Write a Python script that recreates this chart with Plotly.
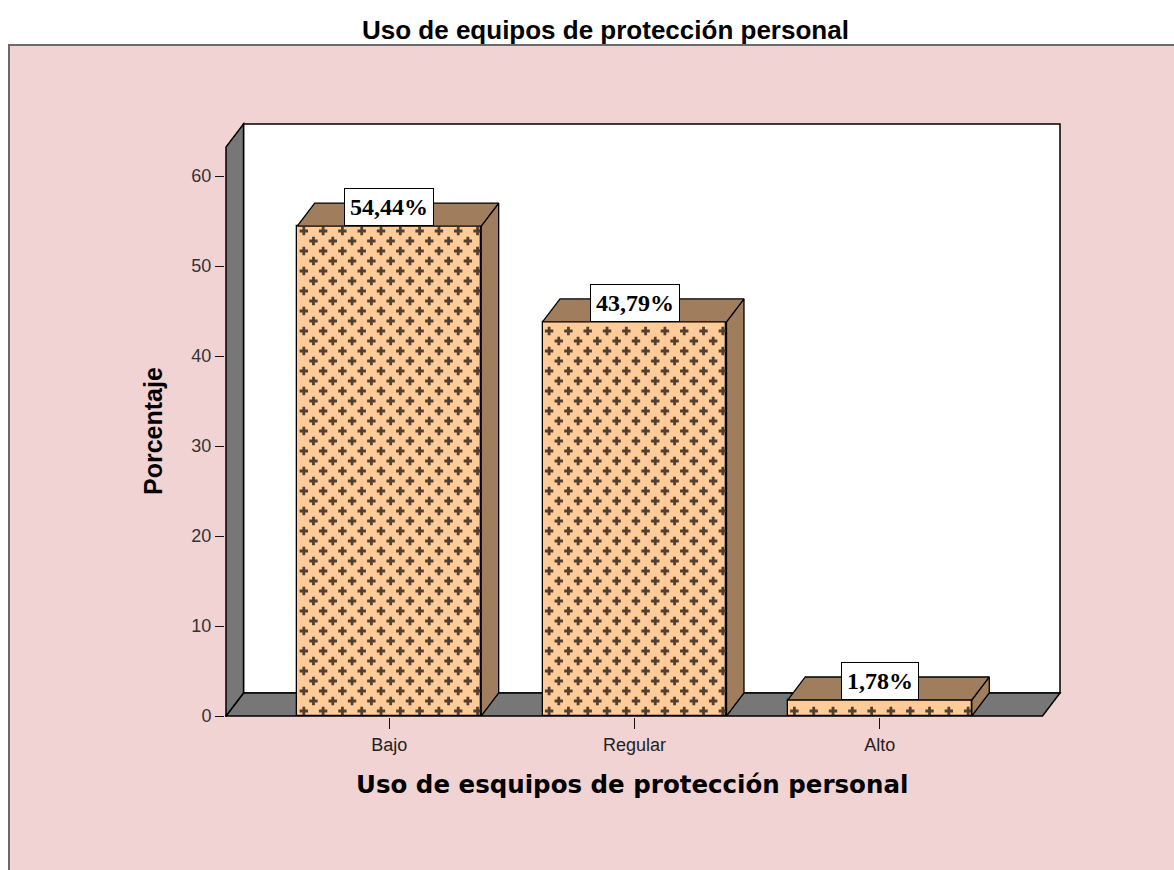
import plotly.graph_objects as go

# ---------------- data ----------------
categories = ["Bajo", "Regular", "Alto"]
percentages = [54.44, 43.79, 1.78]
bar_labels = ["54,44%", "43,79%", "1,78%"]
y_ticks = [0, 10, 20, 30, 40, 50, 60]

title_text = "Uso de equipos de protección personal"
x_title = "Uso de esquipos de protección personal"
y_title = "Porcentaje"

# ---------------- geometry / style ----------------
W, H = 1174, 870
PL, PW = 225, 838          # plot area left / width (px)
PB, PH = 717, 595          # plot area bottom / height (px)
PXX, PXY = 245.3, 9.0      # px per data unit
x_lo = -0.6694
x_hi = x_lo + PW / PXX
y_lo = -(PB - 716) / PXY
y_hi = y_lo + PH / PXY

BAR_W = 0.75
DX = 17.5 / PXX
DY = 23.0 / PXY
XL = x_lo + 1.0 / PXX
XR = 2.7346
YT = (716 - 124) / PXY

PINK = "#F2D3D3"
PEACH = "#FFCC99"
BROWN = "#A07D5C"
GRAY = "#777777"
CROSS = "#3f3024"


def px_x(p):
    return (p - PL) / PW


def px_y(p):
    return (PB - p) / PH


fig = go.Figure()

# front faces of bars
fig.add_trace(go.Bar(
    x=list(range(len(categories))), y=percentages, width=BAR_W,
    marker=dict(color=PEACH, line=dict(color="black", width=1.3)),
    hoverinfo="skip", showlegend=False,
))

# pattern crosses on the front faces
cx, cy = [], []
for i, v in enumerate(percentages):
    left = i - BAR_W / 2
    top_px = v * PXY
    ypx = 5.0
    row = 0
    while ypx <= top_px - 4:
        xpx = 6.6 if row % 2 == 0 else 6.6 + 9.65
        while xpx <= BAR_W * PXX - 3:
            cx.append(left + xpx / PXX)
            cy.append(ypx / PXY)
            xpx += 19.3
        ypx += 10.0
        row += 1
fig.add_trace(go.Scatter(
    x=cx, y=cy, mode="markers",
    marker=dict(symbol="cross", size=7, color=CROSS, opacity=0.9, line=dict(width=0)),
    hoverinfo="skip", showlegend=False,
))

# side and top faces
for i, v in enumerate(percentages):
    x0 = i - BAR_W / 2
    x1 = i + BAR_W / 2
    fig.add_trace(go.Scatter(
        x=[x1, x1, x1 + DX, x1 + DX, x1], y=[0, v, v + DY, DY, 0],
        mode="lines", fill="toself", fillcolor=BROWN,
        line=dict(color="black", width=1.3), hoverinfo="skip", showlegend=False,
    ))
    fig.add_trace(go.Scatter(
        x=[x0, x0 + DX, x1 + DX, x1, x0], y=[v, v + DY, v + DY, v, v],
        mode="lines", fill="toself", fillcolor=BROWN,
        line=dict(color="black", width=1.3), hoverinfo="skip", showlegend=False,
    ))

shapes = [
    # pink frame
    dict(type="rect", xref="paper", yref="paper", layer="below",
         x0=px_x(9), x1=px_x(1190), y0=px_y(890), y1=px_y(45),
         fillcolor=PINK, line=dict(color="#6a6a6a", width=2)),
    # back wall
    dict(type="rect", xref="x", yref="y", layer="below",
         x0=XL + DX, x1=XR, y0=DY, y1=YT,
         fillcolor="white", line=dict(color="black", width=1.5)),
    # floor
    dict(type="path", xref="x", yref="y", layer="below",
         path=f"M{XL},0 L{XL + DX},{DY} L{XR},{DY} L{XR - DX},0 Z",
         fillcolor=GRAY, line=dict(color="black", width=1.5)),
    # left wall
    dict(type="path", xref="x", yref="y", layer="below",
         path=f"M{XL},0 L{XL},{YT - DY} L{XL + DX},{YT} L{XL + DX},{DY} Z",
         fillcolor=GRAY, line=dict(color="black", width=1.5)),
]

annotations = []
for i, (v, t) in enumerate(zip(percentages, bar_labels)):
    annotations.append(dict(
        x=i, y=v, xref="x", yref="y", text=f"<b>{t}</b>", showarrow=False,
        xanchor="center", yanchor="bottom",
        font=dict(family="Liberation Serif, Times New Roman, serif", size=24, color="black"),
        bgcolor="white", bordercolor="black", borderwidth=1, borderpad=5,
    ))

annotations += [
    dict(x=px_x(605), y=px_y(30), xref="paper", yref="paper", text=f"<b>{title_text}</b>",
         showarrow=False, xanchor="center", yanchor="middle",
         font=dict(family="Liberation Sans, Arial, sans-serif", size=26, color="black")),
    dict(x=px_x(632), y=px_y(784), xref="paper", yref="paper", text=f"<b>{x_title}</b>",
         showarrow=False, xanchor="center", yanchor="middle",
         font=dict(family="DejaVu Sans, Verdana, sans-serif", size=24.5, color="black")),
    dict(x=px_x(153), y=px_y(431), xref="paper", yref="paper", text=f"<b>{y_title}</b>",
         showarrow=False, xanchor="center", yanchor="middle", textangle=-90,
         font=dict(family="Liberation Sans, Arial, sans-serif", size=25, color="black")),
]

fig.update_layout(
    width=W, height=H,
    margin=dict(l=PL, r=W - PL - PW, t=PB - PH, b=H - PB, pad=0),
    paper_bgcolor="white", plot_bgcolor="rgba(0,0,0,0)",
    showlegend=False, bargap=0,
    shapes=shapes, annotations=annotations,
    xaxis=dict(range=[x_lo, x_hi], tickvals=list(range(len(categories))), ticktext=categories,
               ticks="outside", ticklen=11, tickwidth=1.3, tickcolor="#111",
               showgrid=False, zeroline=False, showline=False, fixedrange=True,
               tickfont=dict(family="Liberation Sans, Arial, sans-serif", size=18, color="#222")),
    yaxis=dict(range=[y_lo, y_hi], tickvals=y_ticks, ticks="outside", ticklen=9,
               tickwidth=1.3, tickcolor="#111",
               showgrid=False, zeroline=False, showline=False, fixedrange=True,
               tickfont=dict(family="Liberation Sans, Arial, sans-serif", size=18, color="#333")),
)

fig.write_html("out.html")
